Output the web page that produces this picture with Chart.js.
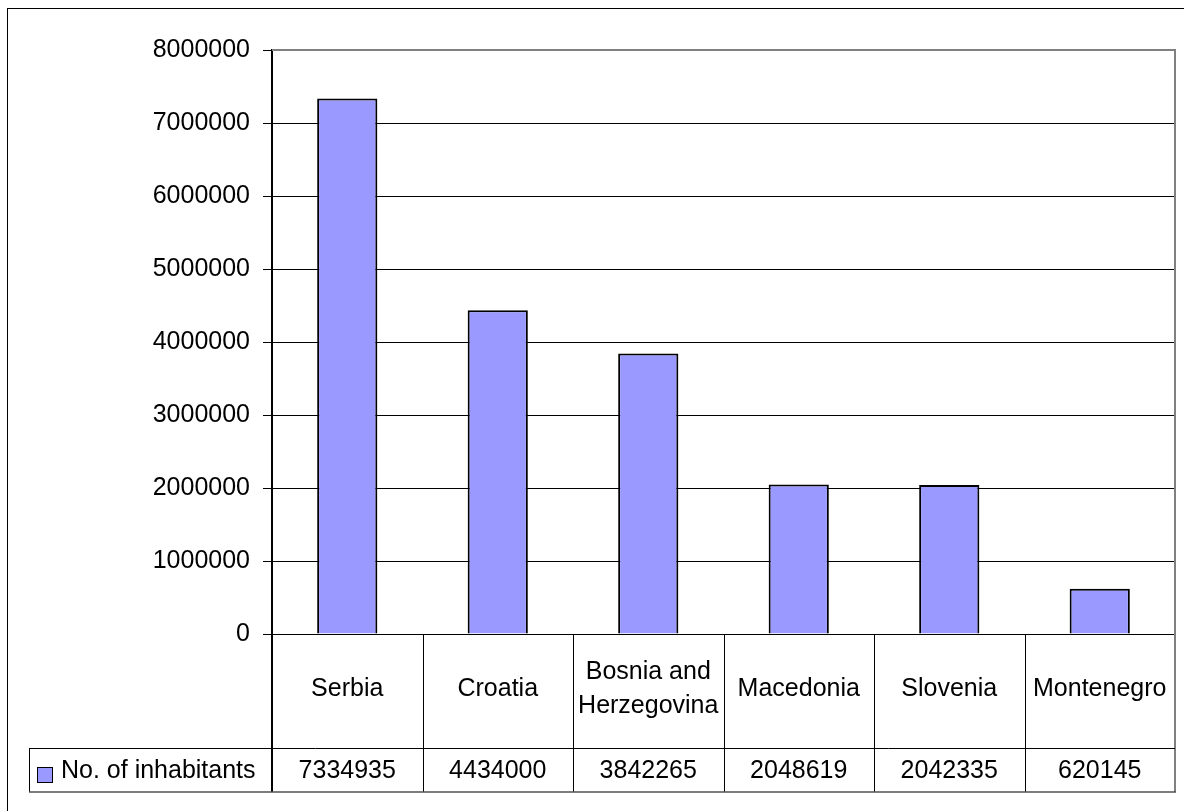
<!DOCTYPE html>
<html>
<head>
<meta charset="utf-8">
<title>No. of inhabitants</title>
<script src="https://cdn.jsdelivr.net/npm/chart.js@4.4.1/dist/chart.umd.min.js"></script>
<style>
  html, body { margin: 0; padding: 0; background: #ffffff; }
  canvas { display: block; }
</style>
</head>
<body>
<canvas id="chart" width="1184" height="811"></canvas>
<script>
// Countries (multi-line labels are split into lines)
const categories = [
  ['Serbia'],
  ['Croatia'],
  ['Bosnia and', 'Herzegovina'],
  ['Macedonia'],
  ['Slovenia'],
  ['Montenegro']
];
const seriesName = 'No. of inhabitants';
const inhabitants = [7334935, 4434000, 3842265, 2048619, 2042335, 620145];
const yTickValues = [0, 1000000, 2000000, 3000000, 4000000, 5000000, 6000000, 7000000, 8000000];

const FONT = '"Liberation Sans", Arial, sans-serif';
const FONT_SIZE = 25;
const BAR_FILL = '#9999ff';

// Outer frame of the chart object
const framePlugin = {
  id: 'frame',
  beforeDraw(chart) {
    const ctx = chart.ctx;
    ctx.save();
    ctx.fillStyle = '#ffffff';
    ctx.fillRect(0, 0, chart.width, chart.height);
    ctx.strokeStyle = '#000000';
    ctx.lineWidth = 1;
    ctx.strokeRect(7.5, 8.5, chart.width + 10, chart.height + 10);
    ctx.restore();
  }
};

// Data table under the plot: category row, value row and legend key
const tablePlugin = {
  id: 'dataTable',
  afterDraw(chart) {
    const ctx = chart.ctx;
    const area = chart.chartArea;
    const xs = chart.scales.x;
    const n = categories.length;
    const half = (xs.getPixelForValue(1) - xs.getPixelForValue(0)) / 2;
    const labelRowBottom = 748;
    const valueRowBottom = 792;
    const legendLeft = 29;

    ctx.save();
    // plot area top/right edges
    ctx.strokeStyle = '#808080';
    ctx.lineWidth = 2;
    ctx.beginPath();
    ctx.moveTo(area.left, area.top);
    ctx.lineTo(area.right, area.top);
    ctx.moveTo(area.right, area.top - 1);
    ctx.lineTo(area.right, valueRowBottom);
    ctx.stroke();

    // interior table lines
    ctx.strokeStyle = '#000000';
    ctx.lineWidth = 1;
    ctx.beginPath();
    for (let i = 1; i < n; i++) {
      const bx = Math.round(xs.getPixelForValue(i) - half) + 0.5;
      ctx.moveTo(bx, area.bottom);
      ctx.lineTo(bx, valueRowBottom);
    }
    ctx.moveTo(legendLeft, labelRowBottom + 0.5);
    ctx.lineTo(area.right, labelRowBottom + 0.5);
    ctx.moveTo(legendLeft + 0.5, labelRowBottom);
    ctx.lineTo(legendLeft + 0.5, valueRowBottom);
    ctx.stroke();
    ctx.beginPath();
    ctx.moveTo(Math.round(area.left), area.bottom);
    ctx.lineTo(Math.round(area.left), valueRowBottom);
    ctx.lineWidth = 2;
    ctx.stroke();

    ctx.strokeStyle = '#505050';
    ctx.lineWidth = 1.5;
    ctx.beginPath();
    ctx.moveTo(legendLeft, valueRowBottom);
    ctx.lineTo(area.right + 1, valueRowBottom);
    ctx.stroke();

    // texts
    ctx.fillStyle = '#000000';
    ctx.font = FONT_SIZE + 'px ' + FONT;
    ctx.textAlign = 'center';
    ctx.textBaseline = 'middle';
    const labelMid = (area.bottom + labelRowBottom) / 2 - 2;
    const lineGap = 34;
    const valueMid = (labelRowBottom + valueRowBottom) / 2 + 1;
    for (let i = 0; i < n; i++) {
      const cx = xs.getPixelForValue(i);
      const lines = categories[i];
      const y0 = labelMid - (lines.length - 1) * lineGap / 2;
      lines.forEach((t, k) => ctx.fillText(t, cx, y0 + k * lineGap));
      ctx.fillText(String(inhabitants[i]), cx, valueMid);
    }

    // legend key
    ctx.fillStyle = BAR_FILL;
    ctx.fillRect(37, 767, 16, 16);
    ctx.strokeStyle = '#000000';
    ctx.lineWidth = 1;
    ctx.strokeRect(37.5, 767.5, 15, 15);
    ctx.fillStyle = '#000000';
    ctx.textAlign = 'left';
    ctx.fillText(seriesName, 61, valueMid);
    ctx.restore();
  }
};

new Chart(document.getElementById('chart'), {
  type: 'bar',
  data: {
    labels: categories,
    datasets: [{
      label: seriesName,
      data: inhabitants,
      backgroundColor: BAR_FILL,
      borderColor: '#000000',
      borderWidth: 2,
      categoryPercentage: 1,
      barPercentage: 0.4
    }]
  },
  options: {
    responsive: false,
    animation: false,
    layout: { padding: { left: 0, top: 50, right: 9, bottom: 177 } },
    plugins: {
      legend: { display: false },
      tooltip: { enabled: false }
    },
    scales: {
      x: { display: false },
      y: {
        min: 0,
        max: 8000000,
        afterBuildTicks(scale) {
          scale.ticks = yTickValues.map(v => ({ value: v }));
        },
        afterFit(scale) { scale.width = 272; },
        border: { display: true, color: '#000000', width: 2 },
        grid: {
          color: '#000000',
          lineWidth: 1,
          drawTicks: true,
          tickLength: 9,
          tickColor: '#000000'
        },
        ticks: {
          padding: 13,
          color: '#000000',
          font: { family: FONT, size: FONT_SIZE },
          callback: v => String(v)
        }
      }
    }
  },
  plugins: [framePlugin, tablePlugin]
});
</script>
</body>
</html>
